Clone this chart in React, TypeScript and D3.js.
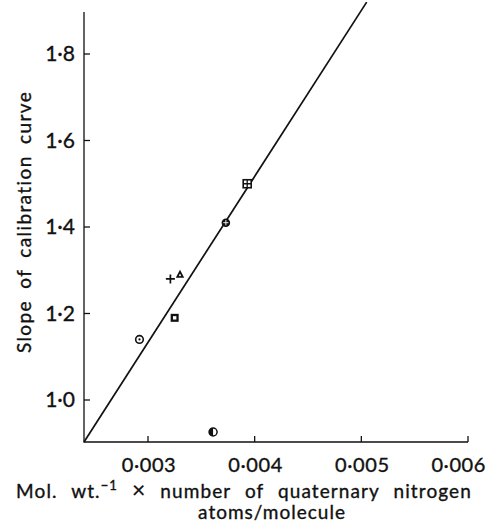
import React from 'react'
import * as d3 from 'd3'

// points (x = mol. wt.^-1 x quaternary N, y = slope)
const pointX = [0.00292, 0.00325, 0.00321, 0.0033, 0.00373, 0.00393, 0.00361]
const pointY = [1.14, 1.19, 1.28, 1.29, 1.41, 1.5, 0.926]
const pointKind = ['circleDot', 'squareDot', 'plus', 'triangle', 'circlePlus', 'squarePlus', 'halfCircle']

// fitted line end points
const lineX = [0.0024, 0.00505]
const lineY = [0.903, 1.92]

const xTicks = [0.003, 0.004, 0.005, 0.006]
const yTicks = [1.0, 1.2, 1.4, 1.6, 1.8]

const fmt = (v: number, d: number) => v.toFixed(d).replace('.', '\u00B7')

function Marker({ kind, x, y }: { kind: string; x: number; y: number }) {
  const s = '#111'
  switch (kind) {
    case 'circleDot':
      return <g><circle cx={x} cy={y} r={3.8} fill="white" stroke={s} strokeWidth={1.6} /><circle cx={x} cy={y} r={1.1} fill={s} /></g>
    case 'squareDot':
      return <g><rect x={x - 4} y={y - 4} width={8} height={8} fill={s} /><rect x={x - 1.7} y={y - 1.7} width={3.4} height={3.4} fill="white" /></g>
    case 'plus':
      return <path d={`M${x - 4.5},${y}H${x + 4.5}M${x},${y - 4.5}V${y + 4.5}`} stroke={s} strokeWidth={1.7} />
    case 'triangle':
      return <g><path d={`M${x},${y - 4.8}L${x + 4.2},${y + 3.2}L${x - 4.2},${y + 3.2}Z`} fill={s} /><circle cx={x} cy={y + 0.6} r={1} fill="white" /></g>
    case 'circlePlus':
      return <g><circle cx={x} cy={y} r={4.3} fill={s} /><path d={`M${x - 2.6},${y}H${x + 2.6}M${x},${y - 2.6}V${y + 2.6}`} stroke="white" strokeWidth={0.9} /></g>
    case 'squarePlus':
      return <g><rect x={x - 4} y={y - 4} width={8} height={8} fill="white" stroke={s} strokeWidth={1.6} /><path d={`M${x - 4},${y}H${x + 4}M${x},${y - 4}V${y + 4}`} stroke={s} strokeWidth={1.3} /></g>
    case 'halfCircle':
      return <g><circle cx={x} cy={y} r={4} fill="white" stroke={s} strokeWidth={1.5} /><path d={`M${x},${y - 4}A4,4 0 0 0 ${x},${y + 4}Z`} fill={s} /></g>
    default:
      return null
  }
}

function App() {
  const width = 488
  const height = 525
  const left = 84
  const right = 468
  const top = 12
  const bottom = 442

  const xScale = d3.scaleLinear().domain([0.0024, 0.006]).range([left, right])
  const yScale = d3.scaleLinear().domain([1.0, 1.8]).range([400, 54])

  const font = 'Lato, "Open Sans", sans-serif'
  const ink = '#111'

  return (
    <svg width={width} height={height} style={{ position: 'absolute', left: 0, top: 0 }} fontFamily={font} fill={ink}>
      <rect width={width} height={height} fill="white" />
      {/* axes */}
      <path d={`M${left},${top}V${bottom}H${right}`} fill="none" stroke={ink} strokeWidth={1.3} />
      <g stroke={ink} strokeWidth={0.35}>
        {yTicks.map(t => <g key={t} transform={`translate(${left} ${yScale(t)})`}>
          <path d="M0,0H6" strokeWidth={1.3} />
          <text x={-9} dy="0.35em" textAnchor="end" fontSize={21}>{fmt(t, 1)}</text>
        </g>)}
        {xTicks.map((t, i) => <g key={t} transform={`translate(${xScale(t)} ${bottom})`}>
          <path d="M0,0V-6" strokeWidth={1.3} />
          <text x={i === xTicks.length - 1 ? 18 : 1} y={30} textAnchor={i === xTicks.length - 1 ? 'end' : 'middle'} fontSize={20} letterSpacing={0.6}>{fmt(t, 3)}</text>
        </g>)}

        {/* titles */}
        <text transform={`translate(31 222) rotate(-90)`} textAnchor="middle" fontSize={19} letterSpacing={1.4} wordSpacing={5}>Slope of calibration curve</text>
        <text x={244} y={498} textAnchor="middle" fontSize={19} letterSpacing={1.1} wordSpacing={8}>
          Mol. wt.<tspan dy={-8} fontSize={13}>{'\u2212'}1</tspan><tspan dy={8}> </tspan><tspan fontSize={23} strokeWidth={0.2}>{'\u00D7'}</tspan><tspan> number of quaternary nitrogen</tspan>
        </text>
        <text x={272} y={519} textAnchor="middle" fontSize={19} letterSpacing={1}>atoms/molecule</text>
      </g>

      {/* fitted line */}
      <line x1={xScale(lineX[0])} y1={yScale(lineY[0])} x2={xScale(lineX[1])} y2={yScale(lineY[1])} stroke={ink} strokeWidth={1.7} />

      {pointX.map((v, i) => <Marker key={i} kind={pointKind[i]} x={xScale(v)} y={yScale(pointY[i])} />)}
    </svg>
  )
}

export default App
